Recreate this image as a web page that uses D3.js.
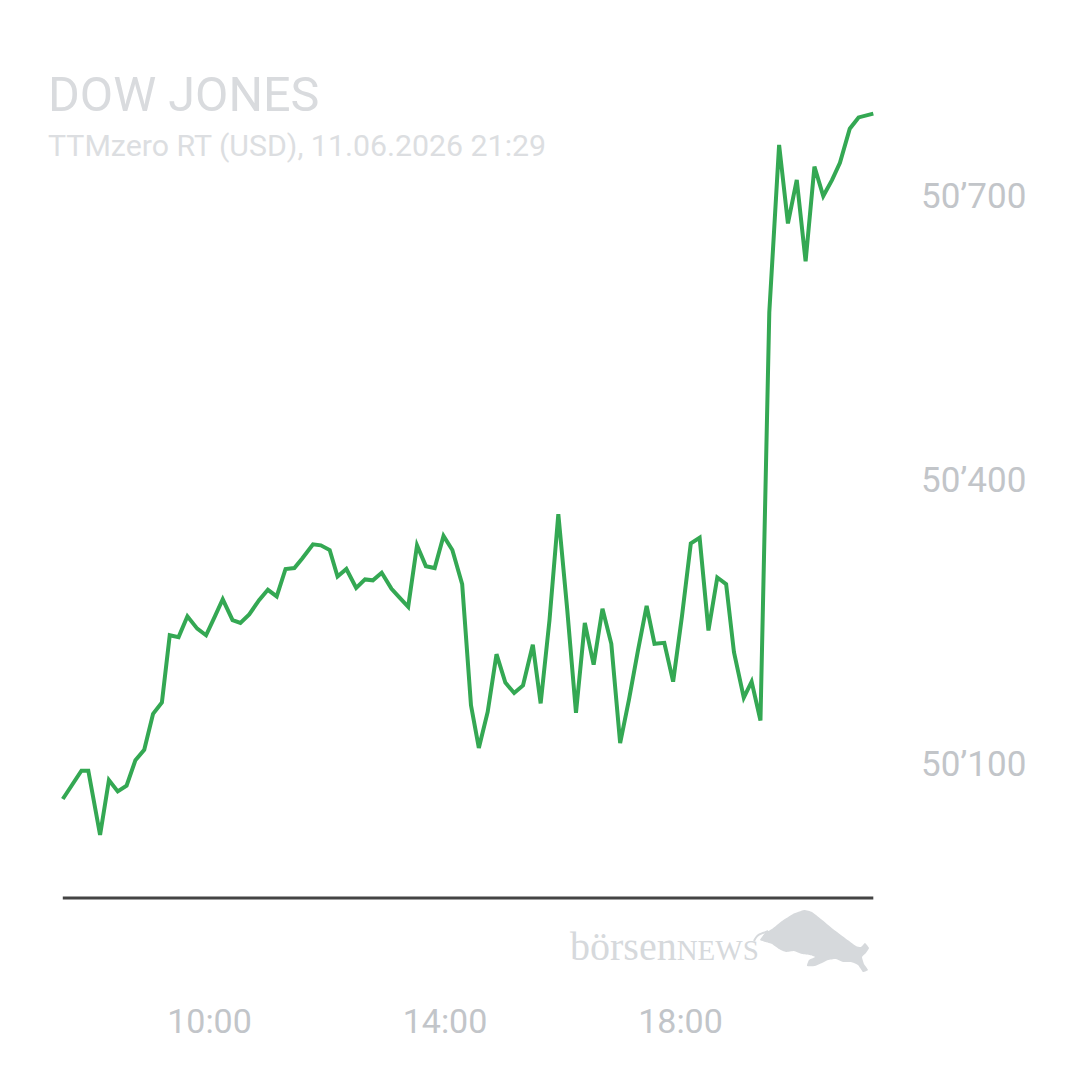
<!doctype html>
<html lang="de">
<head>
<meta charset="utf-8">
<title>Dow Jones</title>
<script src="https://cdn.jsdelivr.net/npm/d3@7"></script>
<style>
  html, body { margin: 0; padding: 0; background: #fff; }
  svg { display: block; font-family: Roboto, "Noto Sans", sans-serif; }
</style>
</head>
<body>
<svg id="chart" width="1080" height="1080"></svg>
<script>
// intraday quotes
const times = ["07:31","07:50","07:57","08:09","08:18","08:27","08:36","08:45","08:54","09:03",
  "09:12","09:20","09:29","09:38","09:48","09:57","10:06","10:14","10:24","10:32",
  "10:41","10:51","11:00","11:09","11:18","11:27","11:35","11:46","11:54","12:03",
  "12:11","12:20","12:30","12:39","12:47","12:56","13:06","13:14","13:23","13:32",
  "13:41","13:50","13:59","14:08","14:18","14:27","14:35","14:44","14:53","15:02",
  "15:11","15:20","15:30","15:38","15:47","15:56","16:05","16:14","16:23","16:32",
  "16:41","16:50","16:59","17:08","17:17","17:26","17:34","17:44","17:53","18:02",
  "18:11","18:20","18:29","18:38","18:47","18:55","19:05","19:13","19:22","19:31",
  "19:41","19:50","19:59","20:08","20:17","20:26","20:35","20:43","20:53","21:02","21:17"];
const quotes = [50063,50093,50093,50025,50083,50071,50077,50104,50115,50153,
  50165,50236,50234,50256,50243,50236,50256,50274,50252,50249,
  50258,50273,50284,50277,50306,50307,50317,50332,50331,50326,
  50298,50306,50286,50295,50294,50302,50285,50276,50266,50331,
  50309,50307,50341,50326,50290,50162,50117,50155,50216,50186,
  50175,50183,50226,50164,50252,50364,50264,50154,50249,50205,
  50264,50227,50122,50168,50219,50267,50227,50228,50187,50256,
  50333,50339,50241,50297,50290,50218,50170,50187,50146,50577,
  50754,50671,50717,50631,50731,50700,50717,50735,50771,50783,50787];
const yTicks = [50100, 50400, 50700];
const xTicks = ["10:00", "14:00", "18:00"];
const title = "DOW JONES";
const subtitle = "TTMzero RT (USD), 11.06.2026 21:29";

const parse = d3.timeParse("%H:%M");
const data = times.map((t, i) => ({ t: parse(t), v: quotes[i] }));

const svg = d3.select("#chart");

const x = d3.scaleTime().domain([parse("10:00"), parse("18:00")]).range([209, 680]);
const y = d3.scaleLinear().domain([50100, 50700]).range([764, 196]);

// header
svg.append("text").attr("x", 48).attr("y", 111)
  .attr("font-size", 48.5).attr("fill", "#d9dbde").text(title);
svg.append("text").attr("x", 48).attr("y", 156)
  .attr("font-size", 30.3).attr("fill", "#dcdee1").text(subtitle);

// price line
const line = d3.line().x(d => x(d.t)).y(d => y(d.v));
svg.append("path").datum(data)
  .attr("d", line)
  .attr("fill", "none")
  .attr("stroke", "#34a853")
  .attr("stroke-width", 4);

// base line under the chart
svg.append("line")
  .attr("x1", x(data[0].t)).attr("x2", x(data[data.length - 1].t))
  .attr("y1", 898).attr("y2", 898)
  .attr("stroke", "#444").attr("stroke-width", 3);

// y axis (right)
const fmt = d3.formatLocale({ decimal: ".", thousands: "\u2019", grouping: [3], currency: ["", ""] }).format(",");
const yAxis = svg.append("g").attr("transform", "translate(921,0)")
  .call(d3.axisRight(y).tickValues(yTicks).tickFormat(fmt).tickSize(0).tickPadding(0));
yAxis.select(".domain").remove();
yAxis.selectAll("text").attr("font-size", 35).attr("fill", "#c2c5c9")
  .attr("font-family", "Roboto, sans-serif");

// x axis (bottom)
const xAxis = svg.append("g").attr("transform", "translate(0,1009)")
  .call(d3.axisBottom(x).tickValues(xTicks.map(parse)).tickFormat(d3.timeFormat("%H:%M")).tickSize(0).tickPadding(0));
xAxis.select(".domain").remove();
xAxis.selectAll("text").attr("font-size", 34).attr("fill", "#c2c5c9")
  .attr("font-family", "Roboto, sans-serif");

// watermark
const wm = svg.append("g").attr("fill", "#d6d9dc");
const wt = wm.append("text").attr("x", 570).attr("y", 960)
  .attr("font-family", "'Liberation Serif', 'DejaVu Serif', serif");
wt.append("tspan").attr("font-size", 40).text("börsen");
wt.append("tspan").attr("font-size", 29).text("NEWS");

const bull = [[760,940],[765,933],[772,929],[782,921],[793,914],[804,910],[812,912],[821,919],
  [833,929],[845,938],[856,946],[861,947],[865,943],[869,948],[866,953],[862,957],[864,964],
  [868,970],[863,972],[858,965],[851,962],[843,962],[836,959],[828,960],[822,963],[815,966],
  [807,966],[809,960],[815,957],[810,955],[802,954],[794,951],[786,952],[779,949],[772,944],[766,942]];
wm.append("path")
  .attr("d", d3.line().curve(d3.curveCardinalClosed.tension(0.6))(bull));
// horn
wm.append("path")
  .attr("d", d3.line().curve(d3.curveBasis)([[754,941],[757,935],[763,933],[768,931]]))
  .attr("fill", "none").attr("stroke", "#d6d9dc").attr("stroke-width", 2);
</script>
</body>
</html>
